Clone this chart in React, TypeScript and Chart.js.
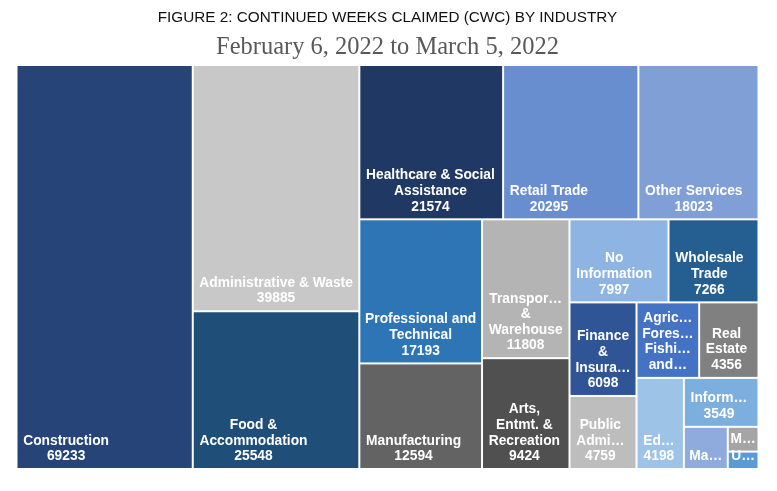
import { useEffect, useRef } from "react";
import { Chart, registerables } from "chart.js";

Chart.register(...registerables);

// ---- Data ----
const INDUSTRIES: string[] = [
  "Construction",
  "Administrative & Waste",
  "Food & Accommodation",
  "Healthcare & Social Assistance",
  "Retail Trade",
  "Other Services",
  "Professional and Technical",
  "Manufacturing",
  "Transportation & Warehouse",
  "Arts, Entmt. & Recreation",
  "No Information",
  "Wholesale Trade",
  "Finance & Insurance",
  "Public Administration",
  "Agriculture, Forestry, Fishing, and Hunting",
  "Real Estate",
  "Education",
  "Information",
  "Management of Companies",
  "Mining",
  "Utilities",
];

const CWC_VALUES: number[] = [
  69233, 39885, 25548, 21574, 20295, 18023, 17193, 12594, 11808, 9424, 7997,
  7266, 6098, 4759, 4600, 4356, 4198, 3549, 1800, 740, 520,
];

const CELL_COLORS: string[] = [
  "#264478",
  "#C8C8C8",
  "#1F4E79",
  "#203864",
  "#698ED0",
  "#7F9FD6",
  "#2E75B6",
  "#636363",
  "#B4B4B4",
  "#505050",
  "#8DB4E2",
  "#255E91",
  "#2F5597",
  "#BDBDBD",
  "#4472C4",
  "#808080",
  "#9DC3E6",
  "#7CAFDD",
  "#8FAADC",
  "#A5A5A5",
  "#5B9BD5",
];

const TITLE_TEXT = "FIGURE 2: CONTINUED WEEKS CLAIMED (CWC) BY INDUSTRY";
const SUBTITLE_TEXT = "February 6, 2022 to March 5, 2022";

// ---- Treemap layout (squarified, d3-v3 style ratio) ----
const SQUARIFY_RATIO = 0.86;

type Cell = { x: number; y: number; w: number; h: number; i: number };

function worst(areas: number[], u: number, ratio: number): number {
  let s = 0;
  let rmax = 0;
  let rmin = Infinity;
  for (const a of areas) {
    s += a;
    if (a > rmax) rmax = a;
    if (a < rmin) rmin = a;
  }
  const s2 = s * s;
  const u2 = u * u;
  return Math.max((u2 * rmax * ratio) / s2, s2 / (u2 * rmin * ratio));
}

function squarify(values: number[], width: number, height: number, ratio: number): Cell[] {
  const total = values.reduce((a, b) => a + b, 0);
  const k = (width * height) / total;
  const areas = values.map((v) => v * k);
  const cells: Cell[] = [];
  let rx = 0;
  let ry = 0;
  let rw = width;
  let rh = height;
  let i = 0;
  const n = areas.length;
  while (i < n) {
    const u = Math.min(rw, rh);
    let row = [areas[i]];
    let best = worst(row, u, ratio);
    let j = i + 1;
    while (j < n) {
      const cand = [...row, areas[j]];
      const sc = worst(cand, u, ratio);
      if (sc <= best) {
        row = cand;
        best = sc;
        j++;
      } else break;
    }
    const s = row.reduce((a, b) => a + b, 0);
    if (rw <= rh) {
      // horizontal row along the top
      const hh = s / rw;
      let cx = rx;
      row.forEach((a, t) => {
        const ww = a / hh;
        cells.push({ x: cx, y: ry, w: ww, h: hh, i: i + t });
        cx += ww;
      });
      ry += hh;
      rh -= hh;
    } else {
      // vertical column at the left
      const ww = s / rh;
      let cy = ry;
      row.forEach((a, t) => {
        const hh = a / ww;
        cells.push({ x: rx, y: cy, w: ww, h: hh, i: i + t });
        cy += hh;
      });
      rx += ww;
      rw -= ww;
    }
    i = j;
  }
  return cells;
}

// ---- Label helpers ----
const LABEL_FONT = "bold 13.8px 'Liberation Sans', Arial, sans-serif";
const LINE_H = 15.6;
const TRUNC_PAD = 4.27;
const DRAW_PAD = 5.7;
const BOTTOM_PAD = 7.8;
const LINES_EXTRA = 10.5;

function fitWord(ctx: CanvasRenderingContext2D, word: string, maxW: number): string {
  if (ctx.measureText(word).width <= maxW) return word;
  let m = word.length - 1;
  while (m > 1 && ctx.measureText(word.slice(0, m) + "\u2026").width > maxW) m--;
  return word.slice(0, Math.max(1, m)) + "\u2026";
}

function wrapLabel(ctx: CanvasRenderingContext2D, label: string, maxW: number, maxLines: number): string[] {
  const words = label.split(" ");
  const lines: string[] = [];
  let cur = "";
  for (const w of words) {
    const test = cur ? cur + " " + w : w;
    if (ctx.measureText(test).width <= maxW) {
      cur = test;
      continue;
    }
    if (cur) lines.push(cur);
    cur = w;
    if (ctx.measureText(cur).width > maxW) {
      lines.push(fitWord(ctx, cur, maxW));
      cur = "";
    }
  }
  if (cur) lines.push(cur);
  if (lines.length > maxLines) {
    const kept = lines.slice(0, maxLines);
    const last = kept[maxLines - 1];
    if (!last.endsWith("\u2026")) {
      let base = last;
      while (base.length > 1 && ctx.measureText(base + "\u2026").width > maxW) base = base.slice(0, -1);
      kept[maxLines - 1] = base + "\u2026";
    }
    return kept;
  }
  return lines;
}

const treemapPlugin = {
  id: "treemapCells",
  afterDatasetsDraw(chart: any) {
    const { ctx, chartArea, scales } = chart;
    const xs = scales.x;
    const ys = scales.y;
    const W = chartArea.right - chartArea.left;
    const H = chartArea.bottom - chartArea.top;
    const cells = squarify(CWC_VALUES, W, H, SQUARIFY_RATIO);
    ctx.save();
    for (const c of cells) {
      const x0 = xs.getPixelForValue(c.x / W);
      const x1 = xs.getPixelForValue((c.x + c.w) / W);
      const y0 = ys.getPixelForValue(c.y / H);
      const y1 = ys.getPixelForValue((c.y + c.h) / H);
      const ix = Math.min(x0, x1) + 1;
      const iy = Math.min(y0, y1) + 1;
      const iw = Math.abs(x1 - x0) - 2;
      const ih = Math.abs(y1 - y0) - 2;
      ctx.fillStyle = CELL_COLORS[c.i];
      ctx.fillRect(ix, iy, iw, ih);

      // label
      ctx.font = LABEL_FONT;
      const maxW = iw - 2 * TRUNC_PAD;
      const maxLines = Math.max(1, Math.floor((ih - LINES_EXTRA) / LINE_H));
      const lines = wrapLabel(ctx, INDUSTRIES[c.i], maxW, maxLines);
      if (lines.length < maxLines) lines.push(String(CWC_VALUES[c.i]));
      const blockW = Math.max(...lines.map((l) => ctx.measureText(l).width));
      const left = ix + Math.min(DRAW_PAD, (iw - blockW) / 2);
      const cx = left + blockW / 2;
      ctx.fillStyle = "#FFFFFF";
      ctx.textAlign = "center";
      ctx.textBaseline = "alphabetic";
      const lastBase = iy + ih - BOTTOM_PAD;
      lines.forEach((l, k) => {
        ctx.fillText(l, cx, lastBase - (lines.length - 1 - k) * LINE_H);
      });
    }
    ctx.restore();
  },
};

export default function App() {
  const canvasRef = useRef<HTMLCanvasElement>(null);
  useEffect(() => {
    if (!canvasRef.current) return;
    const chart = new Chart(canvasRef.current, {
      type: "scatter",
      data: {
        datasets: [
          {
            label: "Continued weeks claimed",
            data: [],
            pointRadius: 0,
          },
        ],
      },
      options: {
        animation: false,
        responsive: true,
        maintainAspectRatio: false,
        layout: { padding: { left: 8.5, right: 10.5, top: 0, bottom: 14 } },
        scales: {
          x: { type: "linear", min: 0, max: 1, display: false },
          y: { type: "linear", min: 0, max: 1, reverse: true, display: false },
        },
        plugins: {
          legend: { display: false },
          tooltip: { enabled: false },
          title: {
            display: true,
            text: TITLE_TEXT,
            color: "#111111",
            font: { family: "'Liberation Sans', Arial, sans-serif", size: 15.3, weight: "normal", lineHeight: 1.2 },
            padding: { top: 0.8, bottom: 0 },
          },
          subtitle: {
            display: true,
            text: SUBTITLE_TEXT,
            color: "#595959",
            font: { family: "'Liberation Serif', 'Times New Roman', serif", size: 24.5, weight: "normal", lineHeight: 1.2 },
            padding: { top: 5.4, bottom: 3.04 },
          },
        },
      } as any,
      plugins: [treemapPlugin],
    });
    return () => chart.destroy();
  }, []);
  return (
    <div style={{ width: 761, height: 475, position: "relative" }}>
      <canvas ref={canvasRef} />
    </div>
  );
}
